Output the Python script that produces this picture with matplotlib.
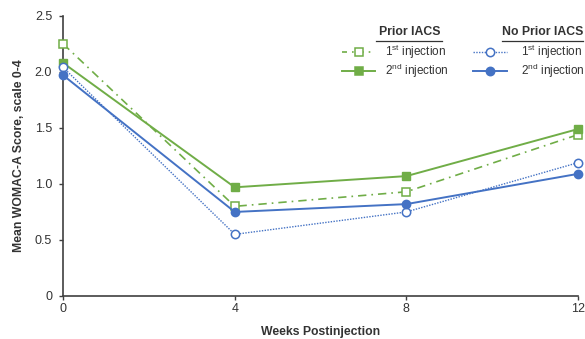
import matplotlib
matplotlib.use("Agg")
import matplotlib.pyplot as plt
from matplotlib.lines import Line2D

plt.rcParams['font.family'] = ['Liberation Sans', 'DejaVu Sans']
plt.rcParams['mathtext.default'] = 'regular'

# data
weeks = [0, 4, 8, 12]
prior_1st = [2.25, 0.80, 0.93, 1.44]
prior_2nd = [2.08, 0.97, 1.07, 1.49]
noprior_1st = [2.04, 0.55, 0.75, 1.19]
noprior_2nd = [1.97, 0.75, 0.82, 1.09]
yticks = [0, 0.5, 1.0, 1.5, 2.0, 2.5]
ytick_labels = ['0', '0.5', '1.0', '1.5', '2.0', '2.5']

green = '#70AD47'
blue = '#4472C4'
axis_col = '#404040'

fig = plt.figure(figsize=(5.85, 3.39), dpi=100)
ax = fig.add_axes([0.108, 0.127, 0.880, 0.826])

ax.plot(weeks, prior_1st, color=green, lw=1.2, ls=(0, (5, 3, 1, 3)),
        marker='s', ms=6, mfc='white', mec=green, mew=1.1, clip_on=False, zorder=3)
ax.plot(weeks, prior_2nd, color=green, lw=1.4, ls='-',
        marker='s', ms=6, mfc=green, mec=green, clip_on=False, zorder=3)
ax.plot(weeks, noprior_1st, color=blue, lw=1.0, ls=(0, (1, 1)),
        marker='o', ms=6, mfc='white', mec=blue, mew=1.1, clip_on=False, zorder=3)
ax.plot(weeks, noprior_2nd, color=blue, lw=1.4, ls='-',
        marker='o', ms=6, mfc=blue, mec=blue, clip_on=False, zorder=4)

ax.set_xlim(0, 12)
ax.set_ylim(0, 2.5)
ax.set_xticks(weeks)
ax.set_yticks(yticks)
ax.set_yticklabels(ytick_labels)
for s in ['top', 'right']:
    ax.spines[s].set_visible(False)
for s in ['left', 'bottom']:
    ax.spines[s].set_color(axis_col)
    ax.spines[s].set_linewidth(1.2)
ax.tick_params(axis='both', colors=axis_col, labelcolor='#333333', labelsize=9,
               length=3, width=1.0, pad=2)
ax.tick_params(axis='y', pad=5)

ax.set_xlabel('Weeks Postinjection', fontsize=8.8, fontweight='bold',
              color='#333333', labelpad=8)
ax.set_ylabel('Mean WOMAC-A Score, scale 0-4', fontsize=8.8, fontweight='bold',
              color='#333333', labelpad=7)

# custom legend, drawn in figure pixel coords
W, H = 585.0, 339.0
def fx(px):
    return px / W
def fy(py):
    return 1 - py / H

groups = [
    ('Prior IACS', 410, 376, 442, green, 342, 375, 385,
     [dict(ls=(0, (3, 3, 1, 3)), marker='s', mfc='white', lw=1.2),
      dict(ls='-', marker='s', mfc=green, lw=1.4)]),
    ('No Prior IACS', 543, 502, 583, blue, 473, 507, 521,
     [dict(ls=(0, (1, 1)), marker='o', mfc='white', lw=1.0),
      dict(ls='-', marker='o', mfc=blue, lw=1.4)]),
]
labels = ['1$^{st}$ injection', '2$^{nd}$ injection']
rows = [52, 71]
for title, tx, ux0, ux1, col, hx0, hx1, txt_x, styles in groups:
    fig.text(fx(tx), fy(32), title, ha='center', va='center', fontsize=8.8,
             fontweight='bold', color='#333333')
    fig.add_artist(Line2D([fx(ux0), fx(ux1)], [fy(41), fy(41)], color='#333333', lw=0.9))
    for row, lab, st in zip(rows, labels, styles):
        fig.add_artist(Line2D([fx(hx0), fx(hx1)], [fy(row), fy(row)], color=col,
                              ls=st['ls'], lw=st['lw']))
        fig.add_artist(Line2D([fx((hx0 + hx1) / 2)], [fy(row)], color=col, ls='none',
                              marker=st['marker'], ms=6, mfc=st['mfc'], mec=col, mew=1.1))
        fig.text(fx(txt_x), fy(row), lab, ha='left', va='center', fontsize=8.5,
                 color='#333333')

fig.savefig('out.png', dpi=100)
